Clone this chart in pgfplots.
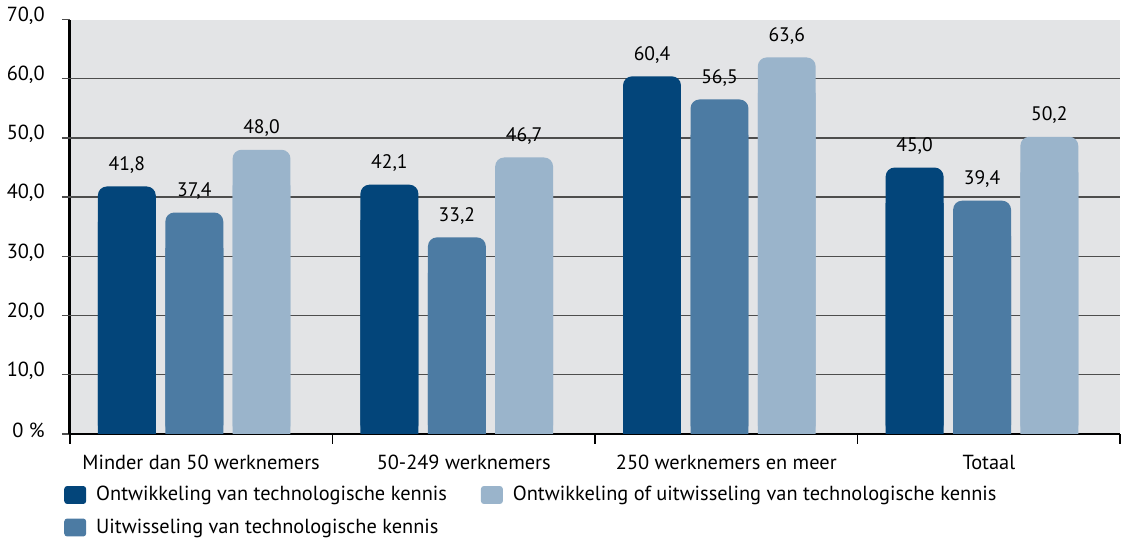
\documentclass[border=0pt]{standalone}
\usepackage{fontspec}
\setmainfont{PT Sans}
\usepackage{pgfplots}
\pgfplotsset{compat=1.18}
\usepackage{pgfplotstable}

\definecolor{cDark}{HTML}{03457A}
\definecolor{cMid}{HTML}{4C7BA3}
\definecolor{cLight}{HTML}{9AB4CB}
\definecolor{bgGray}{HTML}{E3E4E6}
\definecolor{gridGray}{HTML}{4D4D4D}

% percentages per size class
\pgfplotstableread{
x a b c
0 41.8 37.4 48.0
1 42.1 33.2 46.7
2 60.4 56.5 63.6
3 45.0 39.4 50.2
}\kennis

\pgfplotsset{
  legsq/.style={legend image code/.code={\fill[##1, rounded corners=1.5pt] (0pt,-4.5pt) rectangle (11pt,4.5pt);}},
  roundbar/.style={ybar, bar width=29pt, bar shift=0pt, draw=none, rounded corners=4.5pt, forget plot},
  flatbar/.style={ybar, bar width=29pt, bar shift=0pt, draw=none, forget plot, nodes near coords={}},
}

\begin{document}
\fontsize{10.2}{12}\selectfont
\begin{tikzpicture}
\begin{axis}[
  scale only axis, width=526pt, height=207.5pt,
  xmin=-0.5, xmax=3.5, ymin=0, ymax=70,
  axis background/.style={fill=bgGray},
  axis x line*=bottom, axis y line*=left,
  axis line style={line width=1.4pt, black, -},
  tick align=outside,
  major tick length=4pt,
  /pgf/number format/assume math mode=true,
  ytick={0,10,...,70},
  yticklabels={0 \%,{10,0},{20,0},{30,0},{40,0},{50,0},{60,0},{70,0}},
  ytick style={gridGray, line width=0.7pt},
  yticklabel style={xshift=-5pt, yshift=2pt},
  extra y ticks={10,20,...,60},
  extra y tick labels={},
  extra y tick style={grid=major, major grid style={gridGray, line width=0.7pt}},
  xtick={0,1,2,3},
  xticklabels={Minder dan 50 werknemers, 50-249 werknemers, 250 werknemers en meer, Totaal},
  xtick style={draw=none},
  xticklabel style={yshift=-3pt},
  extra x ticks={-0.5,0.5,1.5,2.5,3.5},
  extra x tick labels={},
  extra x tick style={major tick length=5pt, xtick style={draw=black, line width=0.8pt}},
  legend columns=2,
  legend cell align=left,
  legend style={at={(rel axis cs:0,0)}, anchor=north west, xshift=-3pt, yshift=-24pt,
    draw=none, fill=none, inner sep=0pt, row sep=3.5pt,
    /tikz/every odd column/.append style={column sep=3pt},
    /tikz/every even column/.append style={column sep=15pt}},
  nodes near coords={\pgfmathprintnumber[fixed, fixed zerofill, precision=1, use comma]{\pgfplotspointmeta}},
  every node near coord/.append style={yshift=3pt, black, font=\fontsize{9.8}{11}\selectfont},
]
% rounded tops
\addplot[roundbar, fill=cDark] table[x expr=\thisrow{x}-0.283, y=a] {\kennis};
\addplot[roundbar, fill=cMid] table[x expr=\thisrow{x}-0.026, y=b] {\kennis};
\addplot[roundbar, fill=cLight] table[x expr=\thisrow{x}+0.230, y=c] {\kennis};
% square bottoms
\addplot[flatbar, fill=cDark] table[x expr=\thisrow{x}-0.283, y expr=\thisrow{a}-6] {\kennis};
\addplot[flatbar, fill=cMid] table[x expr=\thisrow{x}-0.026, y expr=\thisrow{b}-6] {\kennis};
\addplot[flatbar, fill=cLight] table[x expr=\thisrow{x}+0.230, y expr=\thisrow{c}-6] {\kennis};

\addlegendimage{legsq, fill=cDark, draw=none}
\addlegendentry{Ontwikkeling van technologische kennis}
\addlegendimage{legsq, fill=cLight, draw=none}
\addlegendentry{Ontwikkeling of uitwisseling van technologische kennis}
\addlegendimage{legsq, fill=cMid, draw=none}
\addlegendentry{Uitwisseling van technologische kennis}
\end{axis}
\end{tikzpicture}
\end{document}
